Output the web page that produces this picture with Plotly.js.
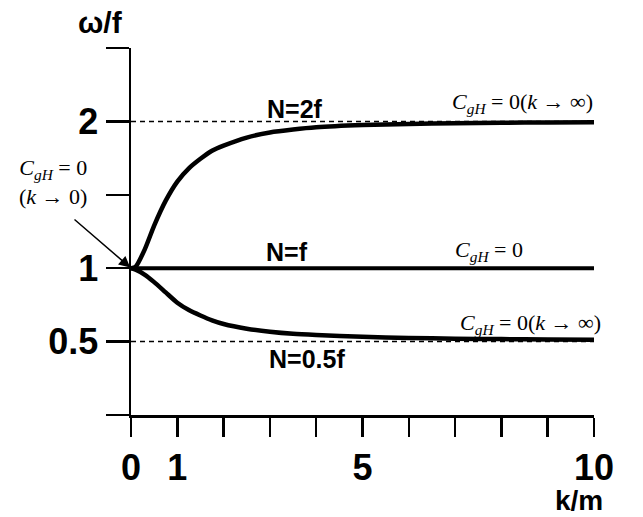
<!DOCTYPE html>
<html>
<head>
<meta charset="utf-8">
<script src="https://cdn.plot.ly/plotly-3.0.1.min.js"></script>
<style>html,body{margin:0;padding:0;background:#fff;}#chart{width:643px;height:517px;}</style>
</head>
<body>
<div id="chart"></div>
<script>
// k/m values
const kmValues = [0, 0.1, 0.3, 0.5, 0.75, 1, 1.25, 1.5, 1.75, 2, 2.5, 3, 3.5, 4, 5, 6, 7, 8, 9, 10];
// ω/f for N = 2f
const omegaN2f = [1, 1.01, 1.13, 1.29, 1.46, 1.59, 1.68, 1.745, 1.80, 1.835, 1.89, 1.925, 1.945, 1.96, 1.975, 1.983, 1.988, 1.991, 1.993, 1.995];
// ω/f for N = f
const omegaNf = [1, 1, 1, 1, 1, 1, 1, 1, 1, 1, 1, 1, 1, 1, 1, 1, 1, 1, 1, 1];
// ω/f for N = 0.5f
const omegaN05f = [1, 0.99, 0.955, 0.905, 0.835, 0.765, 0.715, 0.678, 0.645, 0.62, 0.588, 0.567, 0.553, 0.545, 0.533, 0.525, 0.52, 0.517, 0.515, 0.513];
// asymptote levels (dashed)
const asymX = [0, 10];
const asymHigh = [2, 2];
const asymLow = [0.5, 0.5];
// ticks
const xTickVals = [0, 1, 2, 3, 4, 5, 6, 7, 8, 9, 10];
const xTickText = ['0', '1', '', '', '', '5', '', '', '', '', '10'];
const yTickVals = [0, 0.5, 1, 1.5, 2, 2.5];
const yTickText = ['', '0.5', '1', '', '2', ''];

const cgh = '<i>C<sub>gH</sub></i> = 0';
const serif = {family: 'Liberation Serif, Times New Roman, serif', size: 22, color: '#000'};
const boldSans = {family: 'Liberation Sans, Arial, sans-serif', size: 25, color: '#000', weight: 'bold'};

const traces = [
  {x: asymX, y: asymHigh, mode: 'lines', line: {color: '#000', width: 1.5, dash: '5px,4px'}, hoverinfo: 'skip'},
  {x: asymX, y: asymLow, mode: 'lines', line: {color: '#000', width: 1.5, dash: '5px,4px'}, hoverinfo: 'skip'},
  {x: kmValues, y: omegaN2f, mode: 'lines', line: {color: '#000', width: 4.5, shape: 'spline', smoothing: 0.6}},
  {x: kmValues, y: omegaNf, mode: 'lines', line: {color: '#000', width: 4}},
  {x: kmValues, y: omegaN05f, mode: 'lines', line: {color: '#000', width: 4.5, shape: 'spline', smoothing: 0.6}}
];

const layout = {
  width: 643, height: 517,
  margin: {l: 131, r: 49, t: 48, b: 102},
  paper_bgcolor: '#fff', plot_bgcolor: '#fff',
  showlegend: false,
  xaxis: {
    range: [0, 10], tickvals: xTickVals, ticktext: xTickText,
    ticks: 'outside', ticklen: 19, tickwidth: 2.5, tickcolor: '#000',
    showline: true, linewidth: 2.5, linecolor: '#000',
    showgrid: false, zeroline: false,
    tickfont: {family: 'Liberation Sans, Arial, sans-serif', size: 36, color: '#000', weight: 'bold'},
    fixedrange: true
  },
  yaxis: {
    range: [0, 2.5], tickvals: yTickVals, ticktext: yTickText,
    ticks: 'outside', ticklen: 23, tickwidth: 2.5, tickcolor: '#000',
    showline: true, linewidth: 2.5, linecolor: '#000',
    showgrid: false, zeroline: false,
    tickfont: {family: 'Liberation Sans, Arial, sans-serif', size: 36, color: '#000', weight: 'bold'},
    fixedrange: true
  },
  annotations: [
    {xref: 'paper', yref: 'paper', x: (100 - 131) / 463, y: (517 - 102 - 23) / 367, text: 'ω/f', showarrow: false,
     font: {family: 'Liberation Sans, Arial, sans-serif', size: 30, color: '#000', weight: 'bold'}, xanchor: 'center', yanchor: 'middle'},
    {xref: 'paper', yref: 'paper', x: (579 - 131) / 463, y: (517 - 102 - 501) / 367, text: 'k/m', showarrow: false,
     font: {family: 'Liberation Sans, Arial, sans-serif', size: 28, color: '#000', weight: 'bold'}, xanchor: 'center', yanchor: 'middle'},
    {x: 3.55, y: 2, yshift: 12, text: 'N=2f', showarrow: false, font: boldSans, xanchor: 'center', yanchor: 'middle'},
    {x: 3.37, y: 1, yshift: 16, text: 'N=f', showarrow: false, font: boldSans, xanchor: 'center', yanchor: 'middle'},
    {x: 3.8, y: 0.5, yshift: -17, text: 'N=0.5f', showarrow: false, font: boldSans, xanchor: 'center', yanchor: 'middle'},
    {x: 8.45, y: 2, yshift: 18, text: cgh + '(<i>k</i> → ∞)', showarrow: false, font: serif, xanchor: 'center', yanchor: 'middle'},
    {x: 7.73, y: 1, yshift: 17, text: cgh, showarrow: false, font: serif, xanchor: 'center', yanchor: 'middle'},
    {x: 8.62, y: 0.5, yshift: 18, text: cgh + '(<i>k</i> → ∞)', showarrow: false, font: serif, xanchor: 'center', yanchor: 'middle'},
    {xref: 'paper', yref: 'paper', x: (53 - 131) / 463, y: (415 - 182) / 367, text: cgh + '<br>(<i>k</i> → 0)', showarrow: false,
     font: serif, xanchor: 'center', yanchor: 'middle', align: 'center'},
    {x: 0, y: 1, text: '', showarrow: true, ax: -58, ay: -50, arrowhead: 2, arrowsize: 1.5, arrowwidth: 1.5, arrowcolor: '#000', standoff: 1}
  ]
};

Plotly.newPlot('chart', traces, layout, {displayModeBar: false, staticPlot: true});
</script>
</body>
</html>
